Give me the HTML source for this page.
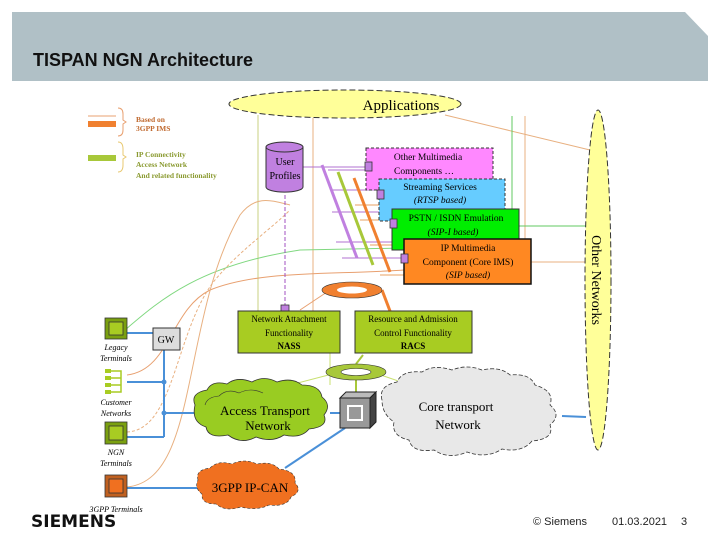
<!DOCTYPE html>
<html><head><meta charset="utf-8"><style>
html,body{margin:0;padding:0;background:#fff;}
svg{display:block;}
.s{font-family:"Liberation Serif",serif;}
</style></head><body>
<svg width="720" height="540" viewBox="0 0 720 540" xmlns="http://www.w3.org/2000/svg">
<polygon points="12,12 685,12 708,36 708,81 12,81" fill="#b0c0c6"/>
<text x="33" y="66" font-family="Liberation Sans,sans-serif" font-weight="bold" font-size="18" fill="#111">TISPAN NGN Architecture</text>

<!-- legend -->
<line x1="88" y1="116" x2="116" y2="116" stroke="#e8a070" stroke-width="1"/>
<rect x="88" y="121" width="28" height="6" fill="#f08030"/>
<path d="M118,108 q5,0 5,6 v6 l3,2 l-3,2 v6 q0,6 -5,6" fill="none" stroke="#e8a070"/>
<text x="136" y="122" class="s" font-size="7.5" fill="#c06a30" font-weight="bold">Based on</text>
<text x="136" y="131" class="s" font-size="7.5" fill="#c06a30" font-weight="bold">3GPP IMS</text>
<rect x="88" y="155" width="28" height="6" fill="#a8c83a"/>
<path d="M118,142 q5,0 5,7 v6 l3,2 l-3,2 v6 q0,7 -5,7" fill="none" stroke="#e8c870"/>
<text x="136" y="157" class="s" font-size="7.5" fill="#8a9a30" font-weight="bold">IP Connectivity</text>
<text x="136" y="167" class="s" font-size="7.5" fill="#8a9a30" font-weight="bold">Access Network</text>
<text x="136" y="178" class="s" font-size="7.5" fill="#8a9a30" font-weight="bold">And related functionality</text>

<!-- thin connectors -->
<g fill="none" stroke-width="1">
<line x1="258" y1="115" x2="258" y2="311" stroke="#c8d080"/>
<line x1="313" y1="118" x2="313" y2="311" stroke="#e8b080"/>
<line x1="445" y1="115" x2="590" y2="150" stroke="#e8b080"/>
<line x1="512" y1="116" x2="512" y2="245" stroke="#60c860"/>
<line x1="525" y1="116" x2="525" y2="240" stroke="#e8b080"/>
<path d="M519,226 H590" stroke="#60c860"/>
<path d="M531,262 H590" stroke="#e8b080"/>
<path d="M125,330 C160,300 200,265 300,250 L404,248" stroke="#80d880"/>
<path d="M127,375 C170,370 170,310 210,290 C260,270 330,275 404,270" stroke="#e8a070"/>
<path d="M127,432 C175,430 175,330 215,280 C240,250 270,230 290,210" stroke="#e8b080" stroke-dasharray="3,2"/>
<path d="M127,487 C200,480 180,320 240,215 C255,195 270,200 290,205" stroke="#e8b080"/>
<line x1="285" y1="195" x2="285" y2="306" stroke="#a050c0" stroke-dasharray="4,2"/>
<line x1="303" y1="167" x2="366" y2="167" stroke="#b070d0"/>
<line x1="330" y1="385" x2="330" y2="350" stroke="#c8e070"/>
<line x1="340" y1="372" x2="290" y2="385" stroke="#c8e070"/>
<line x1="372" y1="372" x2="410" y2="385" stroke="#c8e070"/>
<line x1="356" y1="380" x2="356" y2="395" stroke="#a8c83a" stroke-width="2"/>
<line x1="363" y1="355" x2="356" y2="364" stroke="#a8c83a" stroke-width="2"/>
<line x1="330" y1="290" x2="300" y2="310" stroke="#e8a070"/>
<line x1="382" y1="290" x2="390" y2="311" stroke="#f08030" stroke-width="3"/>
</g>
<!-- bus bars -->
<g stroke-width="1" stroke="#b070d0">
<line x1="328" y1="170" x2="366" y2="170"/><line x1="330" y1="190" x2="379" y2="190"/>
<line x1="332" y1="212" x2="392" y2="212"/><line x1="336" y1="242" x2="392" y2="242"/>
<line x1="342" y1="258" x2="404" y2="258"/>
</g>
<g stroke-width="1" stroke="#e8a060">
<line x1="355" y1="205" x2="392" y2="205"/><line x1="360" y1="220" x2="392" y2="220"/><line x1="370" y1="245" x2="404" y2="245"/><line x1="380" y1="275" x2="404" y2="275"/>
</g>
<line x1="322" y1="165" x2="357" y2="258" stroke="#c080e0" stroke-width="3"/>
<line x1="338" y1="172" x2="373" y2="265" stroke="#a8c83a" stroke-width="3"/>
<line x1="354" y1="178" x2="390" y2="272" stroke="#f08030" stroke-width="3"/>

<!-- applications -->
<ellipse cx="345" cy="104" rx="116" ry="14" fill="#ffff99" stroke="#333" stroke-dasharray="6,3"/>
<text x="401" y="110" class="s" font-size="15" text-anchor="middle">Applications</text>

<!-- other networks -->
<ellipse cx="598" cy="280" rx="13" ry="170" fill="#ffff99" stroke="#333" stroke-dasharray="6,3"/>
<text transform="translate(592,280) rotate(90)" class="s" font-size="14" text-anchor="middle">Other Networks</text>

<!-- user profiles -->
<path d="M266,147 v40 a18,5 0 0 0 37,0 v-40" fill="#c080e0" stroke="#333"/>
<ellipse cx="284.5" cy="147" rx="18.5" ry="5" fill="#c080e0" stroke="#333"/>
<text x="285" y="165" class="s" font-size="10" text-anchor="middle">User</text>
<text x="285" y="179" class="s" font-size="10" text-anchor="middle">Profiles</text>

<!-- stacked boxes -->
<rect x="366" y="148" width="127" height="42" fill="#ff88ff" stroke="#333" stroke-dasharray="3,2"/>
<text x="428" y="160" class="s" font-size="9.5" text-anchor="middle">Other Multimedia</text>
<text x="424" y="174" class="s" font-size="9.5" text-anchor="middle">Components …</text>
<rect x="379" y="179" width="126" height="42" fill="#66ccff" stroke="#333" stroke-dasharray="3,2"/>
<text x="440" y="190" class="s" font-size="9.5" text-anchor="middle">Streaming Services</text>
<text x="440" y="203" class="s" font-size="9.5" font-style="italic" text-anchor="middle">(RTSP based)</text>
<rect x="392" y="209" width="127" height="41" fill="#00ee00" stroke="#333"/>
<text x="456" y="221" class="s" font-size="9.5" text-anchor="middle">PSTN / ISDN Emulation</text>
<text x="453" y="235" class="s" font-size="9.5" font-style="italic" text-anchor="middle">(SIP-I based)</text>
<rect x="404" y="239" width="127" height="45" fill="#ff8822" stroke="#111" stroke-width="1.5"/>
<text x="468" y="251" class="s" font-size="9.5" text-anchor="middle">IP Multimedia</text>
<text x="468" y="265" class="s" font-size="9.5" text-anchor="middle">Component (Core IMS)</text>
<text x="468" y="278" class="s" font-size="9.5" font-style="italic" text-anchor="middle">(SIP based)</text>
<g fill="#c080e0" stroke="#333" stroke-width="0.8">
<rect x="365" y="162" width="7" height="9"/><rect x="377" y="190" width="7" height="9"/><rect x="390" y="219" width="7" height="9"/><rect x="401" y="254" width="7" height="9"/><rect x="281" y="305" width="8" height="9"/>
</g>

<!-- rings -->
<ellipse cx="352" cy="290" rx="30" ry="8" fill="#f08030" stroke="#333" stroke-width="0.6"/>
<ellipse cx="352" cy="290" rx="15" ry="3.5" fill="#fff"/>
<ellipse cx="356" cy="372" rx="30" ry="8" fill="#a8c83a" stroke="#333" stroke-width="0.6"/>
<ellipse cx="356" cy="372" rx="15" ry="3.5" fill="#fff" stroke="#333" stroke-width="0.6"/>

<!-- NASS RACS -->
<rect x="238" y="311" width="102" height="42" fill="#a8cc22" stroke="#333"/>
<text x="289" y="322" class="s" font-size="9" text-anchor="middle">Network Attachment</text>
<text x="289" y="336" class="s" font-size="9" text-anchor="middle">Functionality</text>
<text x="289" y="349" class="s" font-size="9" font-weight="bold" text-anchor="middle">NASS</text>
<rect x="355" y="311" width="117" height="42" fill="#a8cc22" stroke="#333"/>
<text x="413" y="322" class="s" font-size="9" text-anchor="middle">Resource and Admission</text>
<text x="413" y="336" class="s" font-size="9" text-anchor="middle">Control Functionality</text>
<text x="413" y="349" class="s" font-size="9" font-weight="bold" text-anchor="middle">RACS</text>

<!-- blue links -->
<g stroke="#4a90d8" stroke-width="2" fill="none">
<line x1="127" y1="333" x2="153" y2="333"/>
<line x1="164" y1="350" x2="164" y2="437"/>
<line x1="127" y1="382" x2="164" y2="382"/>
<line x1="127" y1="437" x2="164" y2="437"/>
<line x1="164" y1="413" x2="200" y2="413"/>
<line x1="127" y1="488" x2="200" y2="488"/>
<line x1="330" y1="413" x2="342" y2="413"/>
<line x1="285" y1="468" x2="345" y2="428"/>
<line x1="562" y1="416" x2="586" y2="417"/>
</g>
<circle cx="164" cy="382" r="2.5" fill="#4a90d8"/><circle cx="164" cy="413" r="2.5" fill="#4a90d8"/>

<!-- clouds -->
<g fill="#99cc22" stroke="#333" stroke-width="0.8">
<path d="M195,405 q-5,-12 12,-15 q5,-10 20,-6 q10,-8 25,-2 q12,-7 25,0 q15,-5 25,3 q18,0 20,12 q10,8 2,18 q5,12 -15,14 q-8,10 -25,6 q-12,8 -28,2 q-15,8 -28,-2 q-20,4 -22,-8 q-15,-5 -11,-22z"/>
</g>
<path d="M205,405 q2,-8 14,-9 q8,-8 20,-3 q12,-6 24,0" fill="none" stroke="#333" stroke-width="0.6"/>
<text x="265" y="415" class="s" font-size="13" text-anchor="middle">Access Transport</text>
<text x="268" y="430" class="s" font-size="13" text-anchor="middle">Network</text>

<path d="M382,400 q-4,-14 15,-18 q5,-12 25,-10 q12,-8 30,-2 q15,-6 30,0 q18,-4 28,5 q20,-2 25,10 q20,6 15,20 q12,10 0,20 q5,14 -18,16 q-10,12 -30,8 q-15,10 -35,3 q-18,8 -33,-2 q-22,3 -25,-10 q-18,-4 -15,-18 q-12,-8 -12,-22z" fill="#e8e8e8" stroke="#333" stroke-width="0.8" stroke-dasharray="4,2"/>
<text x="456" y="411" class="s" font-size="13" text-anchor="middle">Core transport</text>
<text x="458" y="429" class="s" font-size="13" text-anchor="middle">Network</text>

<path d="M198,480 q-3,-10 12,-12 q8,-8 22,-4 q12,-6 25,0 q15,-3 22,5 q18,2 16,14 q8,8 -4,14 q-4,10 -22,8 q-12,6 -28,2 q-16,5 -25,-3 q-15,0 -14,-10 q-8,-6 -4,-14z" fill="#f07020" stroke="#333" stroke-width="0.6" stroke-dasharray="3,2"/>
<text x="250" y="492" class="s" font-size="13" text-anchor="middle">3GPP IP-CAN</text>

<!-- switch -->
<rect x="340" y="398" width="30" height="30" fill="#999" stroke="#222"/>
<polygon points="340,398 346,392 376,392 370,398" fill="#bbb" stroke="#222"/>
<polygon points="370,398 376,392 376,422 370,428" fill="#444" stroke="#222"/>
<rect x="348" y="406" width="14" height="14" fill="none" stroke="#fff" stroke-width="2"/>

<!-- GW -->
<rect x="153" y="328" width="27" height="22" fill="#ddd" stroke="#333"/>
<text x="166" y="343" class="s" font-size="10" text-anchor="middle">GW</text>

<!-- terminals -->
<g stroke="#333" stroke-width="0.8">
<rect x="105" y="318" width="22" height="21" fill="#7aa010"/><rect x="109" y="322" width="14" height="13" fill="#a8cc22"/>
<rect x="105" y="422" width="22" height="22" fill="#7aa010"/><rect x="109" y="426" width="14" height="14" fill="#a8cc22"/>
<rect x="105" y="475" width="22" height="22" fill="#c06020"/><rect x="109" y="479" width="14" height="14" fill="#f07020"/>
</g>
<g fill="#a8cc22"><rect x="105" y="369" width="6" height="4"/><rect x="105" y="376" width="6" height="4"/><rect x="105" y="383" width="6" height="4"/><rect x="105" y="390" width="6" height="4"/></g>
<path d="M111,371 H121 V392 H111 M111,378 H121 M111,385 H121" fill="none" stroke="#a8cc22" stroke-width="1.5"/>
<g class="s" font-size="8" font-style="italic" text-anchor="middle">
<text x="116" y="350">Legacy</text><text x="116" y="361">Terminals</text>
<text x="116" y="405">Customer</text><text x="116" y="416">Networks</text>
<text x="116" y="455">NGN</text><text x="116" y="466">Terminals</text>
<text x="116" y="512">3GPP Terminals</text>
</g>

<!-- footer -->
<text x="31" y="527" font-family="DejaVu Sans,sans-serif" font-weight="bold" font-size="17" fill="#111">SIEMENS</text>
<text x="533" y="525" font-family="Liberation Sans,sans-serif" font-size="11" fill="#222">© Siemens</text>
<text x="612" y="525" font-family="Liberation Sans,sans-serif" font-size="11" fill="#222">01.03.2021</text>
<text x="681" y="525" font-family="Liberation Sans,sans-serif" font-size="11" fill="#222">3</text>
</svg>
</body></html>
